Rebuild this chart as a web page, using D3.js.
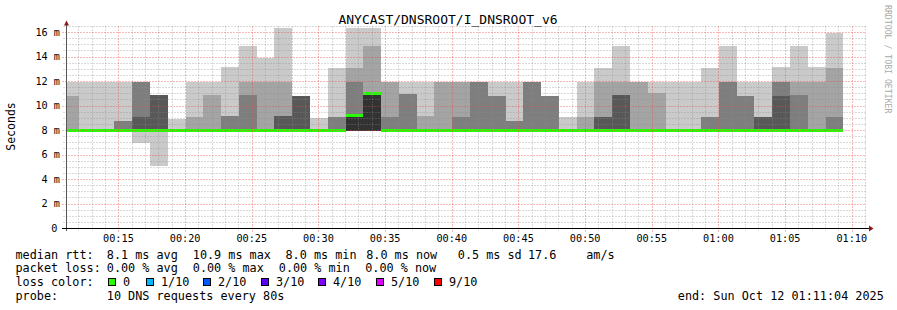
<!DOCTYPE html>
<html lang="en">
<head>
    <meta charset="UTF-8"/>
    <title>ANYCAST/DNSROOT/I_DNSROOT_v6</title>
    <script src="https://d3js.org/d3.v7.min.js" charset="utf-8"></script>

    <style type="text/css">
        body {
            margin: 0;
            background: #fff;
        }

        text {
            font-family: "DejaVu Sans Mono", monospace;
            fill: #000;
        }

        .title { font-size: 13px; }
        .tick-label { font-size: 10.2px; }
        .legend { font-size: 11.8px; }

        .grid-minor {
            stroke: rgba(140, 140, 140, 0.32);
            stroke-dasharray: 2, 1;
            shape-rendering: crispEdges;
        }

        .grid-major {
            stroke: rgba(235, 70, 70, 0.38);
            stroke-dasharray: 2, 1;
            shape-rendering: crispEdges;
        }

        rect.smoke, rect.median, line.axis {
            shape-rendering: crispEdges;
        }
    </style>
</head>
<body>
<svg width="897" height="310"></svg>
<script>

    // one entry per 80 s step, first step starts at 00:10:42
    const stepStart = "00:10:42";
    const stepSeconds = 80;
    const graphEnd = "01:11:04";
    const graphSpan = 3600;

    // sorted pings per step (ms): lowest ping, then upper edge of each smoke band (outer -> inner)
    const pingLow  = [8.0, 8.0, 8.0, 8.0, 7.0, 5.1, 8.0, 8.0, 8.0, 8.0, 8.0, 8.0, 8.0, 8.0, 8.0, 8.0, 8.0, 8.0, 8.0, 8.0, 8.0, 8.0,
                      8.0, 8.0, 8.0, 8.0, 8.0, 8.0, 8.0, 8.0, 8.0, 8.0, 8.0, 8.0, 8.0, 8.0, 8.0, 8.0, 8.0, 8.0, 8.0, 8.0, 8.0, 8.0];
    const smoke1Hi = [12.0, 12.0, 12.0, 12.0, 12.0, 10.9, 8.9, 12.0, 12.0, 13.2, 14.9, 13.9, 16.4, 10.8, 9.0, 13.1, 16.4, 16.4, 12.0, 12.0, 12.0, 12.0,
                      12.0, 12.0, 12.0, 12.0, 12.0, 10.8, 9.1, 12.0, 13.1, 14.9, 12.0, 12.0, 12.0, 12.0, 13.1, 14.9, 12.0, 12.0, 13.2, 14.9, 13.2, 16.0];
    const smoke2Hi = [10.8, 8.0, 8.0, 8.8, 12.0, 10.9, 8.0, 9.1, 10.9, 9.2, 12.0, 12.0, 12.0, 10.8, 8.0, 9.1, 13.1, 14.9, 12.0, 11.0, 9.2, 12.0,
                      12.0, 12.0, 10.8, 8.8, 12.0, 10.8, 8.0, 9.1, 12.0, 12.0, 12.0, 11.1, 8.0, 8.0, 9.1, 12.0, 10.8, 9.1, 12.0, 12.0, 12.0, 13.1];
    const smoke3Hi = [8.0, 8.0, 8.0, 8.8, 12.0, 10.9, 8.0, 8.0, 8.0, 9.2, 10.9, 8.0, 9.2, 10.8, 8.0, 9.1, 12.0, 11.0, 9.1, 11.0, 8.0, 8.0,
                      9.1, 12.0, 10.8, 8.8, 12.0, 10.8, 8.0, 8.0, 9.1, 10.9, 8.0, 8.0, 8.0, 8.0, 9.1, 12.0, 10.8, 9.1, 12.0, 10.9, 8.0, 9.1];
    const smoke4Hi = [8.0, 8.0, 8.0, 8.0, 9.1, 10.9, 8.0, 8.0, 8.0, 8.0, 8.0, 8.0, 9.2, 10.8, 8.0, 8.0, 9.2, 11.0, 8.0, 8.0, 8.0, 8.0,
                      8.0, 8.0, 8.0, 8.0, 8.0, 8.0, 8.0, 8.0, 9.1, 10.9, 8.0, 8.0, 8.0, 8.0, 8.0, 8.0, 8.0, 9.1, 10.8, 8.0, 8.0, 8.0];
    const smoke5Hi = [8.0, 8.0, 8.0, 8.0, 8.0, 8.0, 8.0, 8.0, 8.0, 8.0, 8.0, 8.0, 8.0, 8.0, 8.0, 8.0, 9.2, 11.0, 8.0, 8.0, 8.0, 8.0,
                      8.0, 8.0, 8.0, 8.0, 8.0, 8.0, 8.0, 8.0, 8.0, 8.0, 8.0, 8.0, 8.0, 8.0, 8.0, 8.0, 8.0, 8.0, 8.0, 8.0, 8.0, 8.0];
    // lower edge of the inner bands
    const innerLow = 8.0;
    const medianRtt = [8.0, 8.0, 8.0, 8.0, 8.0, 8.0, 8.0, 8.0, 8.0, 8.0, 8.0, 8.0, 8.0, 8.0, 8.0, 8.0, 9.2, 11.0, 8.0, 8.0, 8.0, 8.0,
                       8.0, 8.0, 8.0, 8.0, 8.0, 8.0, 8.0, 8.0, 8.0, 8.0, 8.0, 8.0, 8.0, 8.0, 8.0, 8.0, 8.0, 8.0, 8.0, 8.0, 8.0, 8.0];

    const xTickLabels = ["00:15", "00:20", "00:25", "00:30", "00:35", "00:40", "00:45", "00:50", "00:55", "01:00", "01:05", "01:10"];
    const yTicks = [0, 2, 4, 6, 8, 10, 12, 14, 16];
    const yTickLabels = ["0", "2 m", "4 m", "6 m", "8 m", "10 m", "12 m", "14 m", "16 m"];

    const rttStats = ["8.1 ms avg", "10.9 ms max", "8.0 ms min", "8.0 ms now", "0.5 ms sd", "17.6", "am/s"];
    const lossStats = ["0.00 % avg", "0.00 % max", "0.00 % min", "0.00 % now"];
    const lossLabels = ["0", "1/10", "2/10", "3/10", "4/10", "5/10", "9/10"];
    const lossColors = ["#26ff00", "#00b8ff", "#0059ff", "#5e00ff", "#7e00ff", "#dd00ff", "#ff0000"];
    const probeText = "10 DNS requests every 80s";
    const endText = "end: Sun Oct 12 01:11:04 2025";

    function secs(s) {
        let p = s.split(":").map(Number);
        return p[0] * 3600 + p[1] * 60 + (p[2] || 0);
    }

    let svg = d3.select("svg");

    let endSec = secs(graphEnd),
        startSec = endSec - graphSpan,
        t0 = secs(stepStart);

    let x = d3.scaleLinear().domain([startSec, endSec]).range([66, 866]);
    let y = d3.scaleLinear().domain([0, 16.5]).range([228.5, 26.4]);

    svg.append("defs").append("clipPath").attr("id", "plot")
        .append("rect").attr("x", 67).attr("y", 20).attr("width", 799).attr("height", 209);

    let plot = svg.append("g").attr("clip-path", "url(#plot)");

    // smoke: nested bands, inner ones drawn last
    let bands = [
        {lo: pingLow, hi: smoke1Hi, color: "#cacaca"},
        {lo: null, hi: smoke2Hi, color: "#a4a4a4"},
        {lo: null, hi: smoke3Hi, color: "#7e7e7e"},
        {lo: null, hi: smoke4Hi, color: "#585858"},
        {lo: null, hi: smoke5Hi, color: "#323232"}
    ];

    bands.forEach(function(b, k) {
        plot.selectAll(".smoke" + k)
            .data(b.hi)
            .enter().append("rect")
            .attr("class", "smoke smoke" + k)
            .attr("x", function(d, i) { return x(t0 + i * stepSeconds); })
            .attr("width", function(d, i) { return x(t0 + (i + 1) * stepSeconds) - x(t0 + i * stepSeconds); })
            .attr("y", function(d) { return y(d); })
            .attr("height", function(d, i) {
                let lo = b.lo ? b.lo[i] : innerLow;
                return Math.max(0, y(lo) - y(d));
            })
            .attr("fill", b.color);
    });

    // median line, coloured by loss
    plot.selectAll(".median")
        .data(medianRtt)
        .enter().append("rect")
        .attr("class", "median")
        .attr("x", function(d, i) { return x(t0 + i * stepSeconds); })
        .attr("width", function(d, i) { return x(t0 + (i + 1) * stepSeconds) - x(t0 + i * stepSeconds); })
        .attr("y", function(d) { return y(d) - 1.5; })
        .attr("height", 3)
        .attr("fill", lossColors[0]);

    // grid on top
    let grid = svg.append("g");
    let majorSecs = xTickLabels.map(secs);

    d3.range(secs("00:12"), endSec, 60).forEach(function(s) {
        let major = majorSecs.indexOf(s) >= 0;
        let px = Math.round(x(s)) + 0.5;
        grid.append("line")
            .attr("class", major ? "grid-major" : "grid-minor")
            .attr("x1", px).attr("x2", px)
            .attr("y1", y(16.5)).attr("y2", major ? 232 : 231);
    });

    d3.range(0.5, 16.51, 0.5).forEach(function(v) {
        let major = v % 2 === 0;
        let py = Math.round(y(v) - 0.5) + 0.5;
        grid.append("line")
            .attr("class", major ? "grid-major" : "grid-minor")
            .attr("x1", major ? 62 : 63).attr("x2", 866)
            .attr("y1", py).attr("y2", py);
    });

    // axes
    svg.append("line").attr("class", "axis")
        .attr("x1", 66.5).attr("x2", 66.5).attr("y1", 24).attr("y2", 231)
        .attr("stroke", "#555");
    svg.append("line").attr("class", "axis")
        .attr("x1", 62).attr("x2", 869).attr("y1", 228.5).attr("y2", 228.5)
        .attr("stroke", "#000");
    svg.append("path").attr("d", "M869,225.5L873.5,228.5L869,231.5Z").attr("fill", "#8b1a1a");
    svg.append("path").attr("d", "M64,25.5L66.5,20.5L69,25.5Z").attr("fill", "#8b1a1a");

    svg.selectAll(".xlabel")
        .data(xTickLabels)
        .enter().append("text")
        .attr("class", "tick-label xlabel")
        .attr("x", function(d) { return x(secs(d)); })
        .attr("y", 241.7)
        .attr("text-anchor", "middle")
        .text(function(d) { return d; });

    svg.selectAll(".ylabel")
        .data(yTicks)
        .enter().append("text")
        .attr("class", "tick-label ylabel")
        .attr("x", function(d) { return d === 0 ? 57.5 : 60; })
        .attr("y", function(d) { return y(d) + 3.4; })
        .attr("text-anchor", "end")
        .text(function(d, i) { return yTickLabels[i]; });

    svg.append("text").attr("class", "title")
        .attr("x", 448).attr("y", 24).attr("text-anchor", "middle")
        .text("ANYCAST/DNSROOT/I_DNSROOT_v6");

    svg.append("text")
        .attr("transform", "translate(15,126.5) rotate(-90)")
        .attr("text-anchor", "middle")
        .style("font-size", "11.5px")
        .text("Seconds");

    svg.append("text")
        .attr("transform", "translate(885,5) rotate(90)")
        .style("font-size", "8.2px")
        .style("fill", "#aaa")
        .text("RRDTOOL / TOBI OETIKER");

    // legend
    let legend = svg.append("g").attr("class", "legend");

    function put(xx, yy, s) {
        legend.append("text").attr("x", xx).attr("y", yy).attr("xml:space", "preserve").text(s);
    }

    put(15.5, 258.5, "median rtt:");
    [106.8, 192.8, 285.5, 366.2, 457.8, 528, 586.2].forEach(function(px, i) { put(px, 258.5, rttStats[i]); });

    put(15.5, 272, "packet loss:");
    [106.8, 192.8, 278.8, 365.2].forEach(function(px, i) { put(px, 272, lossStats[i]); });

    put(15.5, 286, "loss color:");
    [108.5, 146.5, 203.5, 261.5, 318.5, 376.5, 434.5].forEach(function(px, i) {
        legend.append("rect")
            .attr("x", px).attr("y", 278.5).attr("width", 7).attr("height", 7)
            .attr("fill", lossColors[i]).attr("stroke", "#000").attr("stroke-width", 1);
        put(px + 14.5, 286, lossLabels[i]);
    });

    put(15.5, 299.5, "probe:");
    put(106.8, 299.5, probeText);
    put(677.8, 299.5, endText);

</script>
</body>
</html>
